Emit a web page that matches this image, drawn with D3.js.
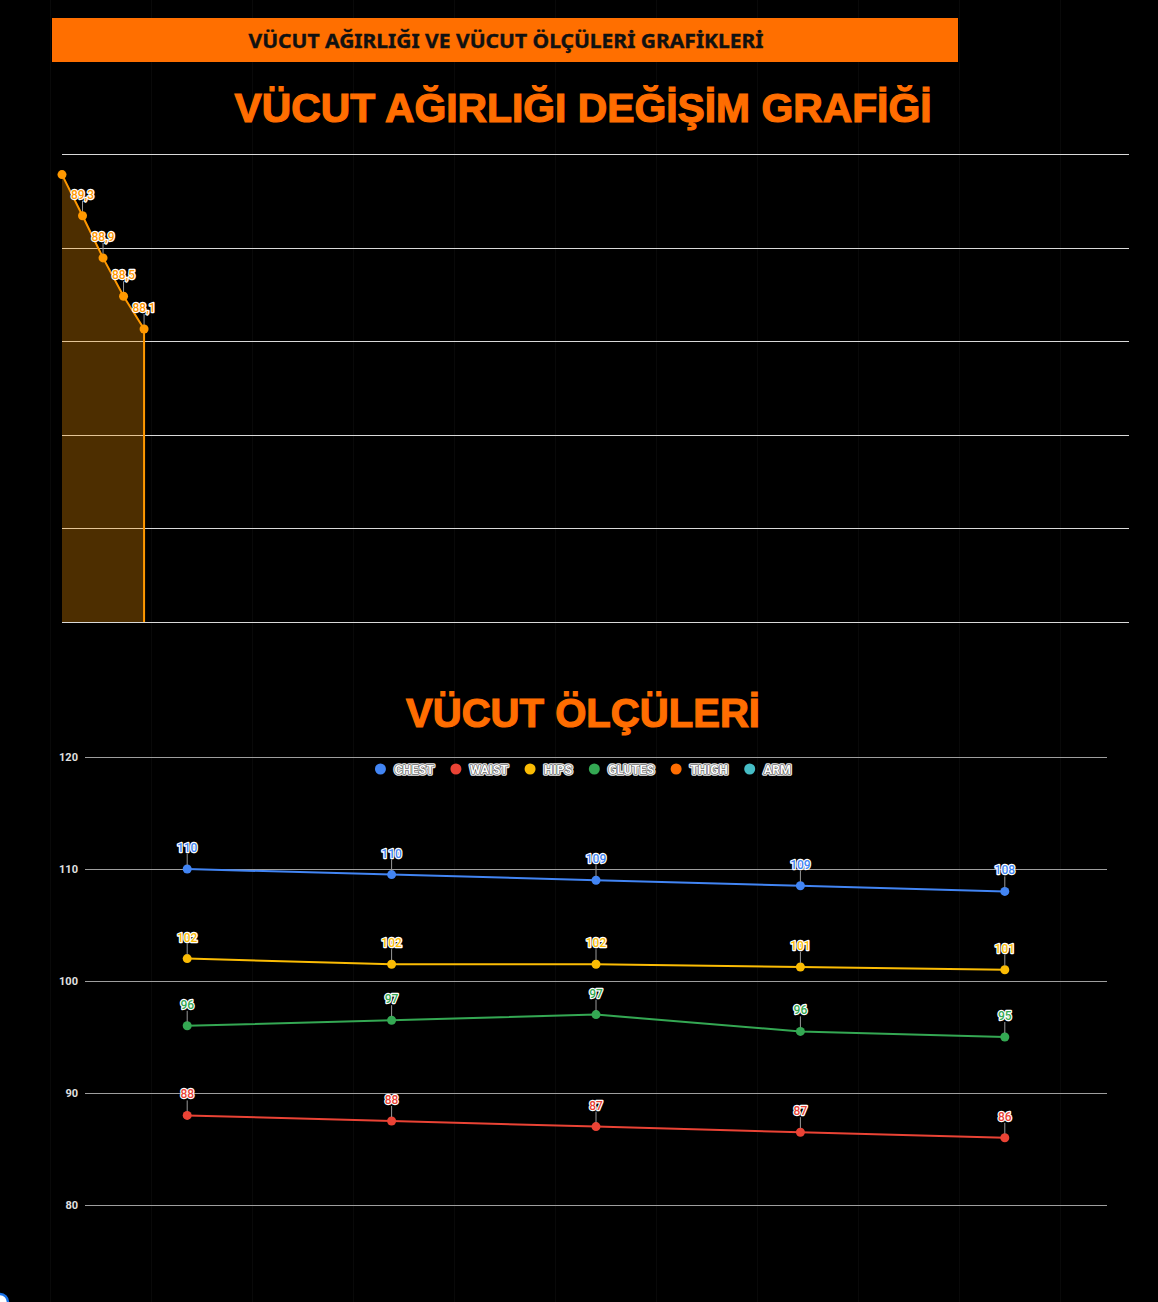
<!DOCTYPE html>
<html>
<head>
<meta charset="utf-8">
<script src="https://cdn.jsdelivr.net/npm/d3@7"></script>
<style>
  body { margin: 0; background: #000; }
  svg { display: block; }
</style>
</head>
<body>
<div id="chart"></div>
<script>
// Chart texts
const headerText = 'VÜCUT AĞIRLIĞI  VE VÜCUT ÖLÇÜLERİ GRAFİKLERİ';
const weightTitle = 'VÜCUT AĞIRLIĞI DEĞİŞİM GRAFİĞİ';
const measureTitle = 'VÜCUT ÖLÇÜLERİ';

// Weight chart data (52 week slots, only first weeks are filled)
const weekSlots = d3.range(0, 53);
const weightWeeks = [0, 1, 2, 3, 4];
const weightValues = [89.78, 89.34, 88.89, 88.48, 88.13];
const weightTicks = [85, 86, 87, 88, 89, 90];

// Body measurement data
const measureDates = ['1', '2', '3', '4', '5'];
const chestValues = [110, 109.5, 109, 108.5, 108];
const waistValues = [88, 87.5, 87, 86.5, 86];
const hipsValues = [102, 101.5, 101.5, 101.25, 101];
const glutesValues = [96, 96.5, 97, 95.5, 95];
const thighValues = [];
const armValues = [];
const measureTicks = [80, 90, 100, 110, 120];

const seriesNames = ['CHEST', 'WAIST', 'HIPS', 'GLUTES', 'THIGH', 'ARM'];
const seriesColors = ['#4285f4', '#ea4335', '#fbbc04', '#34a853', '#ff6d01', '#46bdc6'];

const width = 1158;
const height = 1302;
const orange = '#ff6d00';

const svg = d3.select('#chart')
    .append('svg')
        .attr('width', width)
        .attr('height', height)
        .style('background', '#000');

// faint page grid
svg.append('g')
    .selectAll('line')
    .data(d3.range(50, width, 101))
    .join('line')
        .attr('x1', d => d + 0.5)
        .attr('x2', d => d + 0.5)
        .attr('y1', 0)
        .attr('y2', height)
        .attr('stroke', '#090909');

// header bar
svg.append('rect')
    .attr('x', 52)
    .attr('y', 18)
    .attr('width', 906)
    .attr('height', 44)
    .attr('fill', '#ff6f00');

svg.append('text')
    .attr('x', 506)
    .attr('y', 48)
    .attr('text-anchor', 'middle')
    .attr('font-family', 'Noto Sans')
    .attr('font-weight', 700)
    .attr('font-size', '20px')
    .attr('textLength', 515)
    .attr('lengthAdjust', 'spacingAndGlyphs')
    .attr('stroke', '#111')
    .attr('stroke-width', 0.4)
    .attr('fill', '#111')
    .text(headerText);

const bigTitle = (text, x, y, len) => {
    svg.append('text')
        .attr('x', x)
        .attr('y', y)
        .attr('text-anchor', 'middle')
        .attr('font-family', 'Liberation Sans')
        .attr('font-weight', 700)
        .attr('font-size', '40px')
        .attr('textLength', len)
        .attr('lengthAdjust', 'spacingAndGlyphs')
        .attr('stroke', orange)
        .attr('stroke-width', 1.2)
        .attr('fill', orange)
        .text(text);
};

bigTitle(weightTitle, 583, 122, 697);
bigTitle(measureTitle, 583, 727, 354);

// halo label helper: colored text with white outline
const haloLabel = (g, x, y, text, color) => {
    g.append('text')
        .attr('x', x)
        .attr('y', y)
        .attr('text-anchor', 'middle')
        .attr('font-family', 'Roboto')
        .attr('font-weight', 500)
        .attr('font-size', '12px')
        .attr('fill', color)
        .attr('stroke', '#fff')
        .attr('stroke-width', 2.4)
        .attr('stroke-linejoin', 'round')
        .attr('paint-order', 'stroke')
        .text(text);
};

// ---------- Weight chart ----------
const wBox = { left: 62, right: 1129, top: 154, bottom: 622 };

const wx = d3.scalePoint()
    .domain(weekSlots)
    .range([wBox.left, wBox.right]);

const wy = d3.scaleLinear()
    .domain(d3.extent(weightTicks))
    .range([wBox.bottom, wBox.top]);

const wChart = svg.append('g');

wChart.append('g')
    .selectAll('line')
    .data(weightTicks)
    .join('line')
        .attr('x1', wBox.left)
        .attr('x2', wBox.right)
        .attr('y1', d => Math.round(wy(d)) + 0.5)
        .attr('y2', d => Math.round(wy(d)) + 0.5)
        .attr('stroke', '#d9d9d9');

const weightData = weightWeeks.map((w, i) => ({ w, v: weightValues[i] }));

const area = d3.area()
    .x(d => wx(d.w))
    .y0(wBox.bottom)
    .y1(d => wy(d.v));

wChart.append('path')
    .datum(weightData)
    .attr('d', area)
    .attr('fill', '#ff9800')
    .attr('fill-opacity', 0.3);

const last = weightData[weightData.length - 1];
const linePts = weightData.map(d => [wx(d.w), wy(d.v)])
    .concat([[wx(last.w), wBox.bottom]]);

wChart.append('path')
    .attr('d', d3.line()(linePts))
    .attr('fill', 'none')
    .attr('stroke', '#ff9800')
    .attr('stroke-width', 2);

const commaFmt = v => d3.format('.1f')(v).replace('.', ',');

weightData.forEach(d => {
    const px = wx(d.w);
    const py = wy(d.v);
    // labels that would leave the plot area are hidden
    if (py - 28 < wBox.top) return;
    wChart.append('line')
        .attr('x1', px).attr('x2', px)
        .attr('y1', py - 4).attr('y2', py - 15)
        .attr('stroke', '#999')
        .attr('stroke-width', 1);
    haloLabel(wChart, px, py - 17, commaFmt(d.v), '#ff9800');
});

wChart.append('g')
    .selectAll('circle')
    .data(weightData)
    .join('circle')
        .attr('cx', d => wx(d.w))
        .attr('cy', d => wy(d.v))
        .attr('r', 4.5)
        .attr('fill', '#ff9800');

// ---------- Measurement chart ----------
const mBox = { left: 85, right: 1107, top: 757, bottom: 1205 };

const mx = d3.scalePoint()
    .domain(measureDates)
    .range([mBox.left, mBox.right])
    .padding(0.5);

const my = d3.scaleLinear()
    .domain(d3.extent(measureTicks))
    .range([mBox.bottom, mBox.top]);

const mChart = svg.append('g');

const yAxis = d3.axisLeft(my)
    .tickValues(measureTicks)
    .tickSize(-(mBox.right - mBox.left))
    .tickPadding(7);

mChart.append('g')
    .attr('transform', `translate(${mBox.left}, 0)`)
    .call(yAxis)
    .call(g => g.select('.domain').remove())
    .call(g => g.selectAll('.tick line').attr('stroke', '#9e9e9e'))
    .call(g => g.selectAll('.tick text')
        .attr('fill', '#e0e0e0')
        .attr('font-family', 'Roboto')
        .attr('font-weight', 700)
        .attr('font-size', '11px'));

const allSeries = [chestValues, waistValues, hipsValues, glutesValues, thighValues, armValues]
    .map((values, i) => ({
        name: seriesNames[i],
        color: seriesColors[i],
        points: values.map((v, j) => ({ c: measureDates[j], v })),
    }));

const mLine = d3.line()
    .x(d => mx(d.c))
    .y(d => my(d.v));

allSeries.forEach(s => {
    if (!s.points.length) return;
    mChart.append('path')
        .datum(s.points)
        .attr('d', mLine)
        .attr('fill', 'none')
        .attr('stroke', s.color)
        .attr('stroke-width', 2);
});

allSeries.forEach(s => {
    mChart.append('g')
        .selectAll('circle')
        .data(s.points)
        .join('circle')
            .attr('cx', d => mx(d.c))
            .attr('cy', d => my(d.v))
            .attr('r', 4.5)
            .attr('fill', s.color);
});

const intFmt = d3.format('.0f');
allSeries.forEach(s => {
    s.points.forEach(d => {
        const px = mx(d.c);
        const py = my(d.v);
        mChart.append('line')
            .attr('x1', px).attr('x2', px)
            .attr('y1', py - 4).attr('y2', py - 15)
            .attr('stroke', '#999')
            .attr('stroke-width', 1);
        haloLabel(mChart, px, py - 17, intFmt(d.v), s.color);
    });
});

// legend
const legend = svg.append('g');
let lx = 0;
allSeries.forEach(s => {
    const item = legend.append('g').attr('transform', `translate(${lx}, 0)`);
    item.append('circle')
        .attr('cx', 0)
        .attr('cy', 0)
        .attr('r', 5.5)
        .attr('fill', s.color);
    const t = item.append('text')
        .attr('x', 14)
        .attr('y', 4.5)
        .attr('font-family', 'Roboto')
        .attr('font-weight', 700)
        .attr('font-size', '12.5px')
        .attr('fill', '#ddd')
        .attr('stroke', '#e6e6e6')
        .attr('stroke-width', 3.6)
        .attr('stroke-linejoin', 'round')
        .attr('paint-order', 'stroke')
        .text(s.name);
    item.append('text')
        .attr('x', 14)
        .attr('y', 4.5)
        .attr('font-family', 'Roboto')
        .attr('font-weight', 700)
        .attr('font-size', '12.5px')
        .attr('fill', '#fafafa')
        .attr('stroke', '#3a3a3a')
        .attr('stroke-width', 1)
        .attr('stroke-linejoin', 'round')
        .attr('paint-order', 'stroke')
        .text(s.name);
    lx += 14 + t.node().getComputedTextLength() + 22;
});
const legendWidth = lx - 22 + 5.5;
legend.attr('transform', `translate(${583 - legendWidth / 2 + 5.5}, 769)`);

// corner widget
svg.append('circle')
    .attr('cx', 0)
    .attr('cy', height)
    .attr('r', 8)
    .attr('fill', '#fff')
    .attr('stroke', '#1a73e8')
    .attr('stroke-width', 2.5);
</script>
</body>
</html>
